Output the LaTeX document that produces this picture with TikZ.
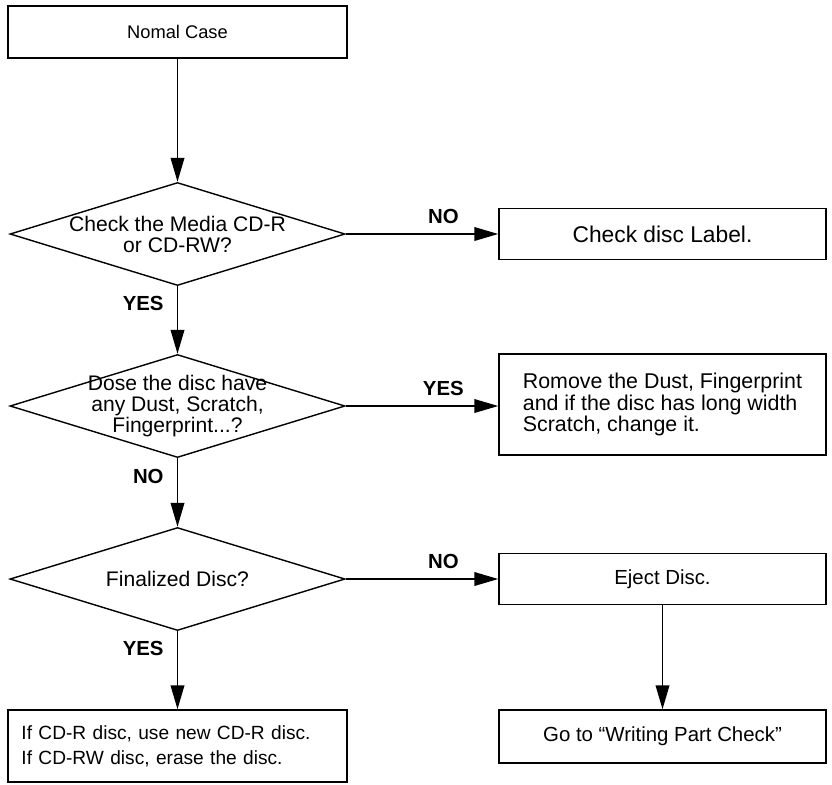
\documentclass[tikz,border=0pt]{standalone}
\usepackage{fontspec}
\setmainfont{Liberation Sans}
\usetikzlibrary{arrows.meta,positioning,shapes.geometric}
\tikzset{
  stepbox/.style={
    rectangle, draw, line width=1pt,
    minimum width=8.175cm, minimum height=#1,
    font=\fontsize{14.5}{13.5}\selectfont, align=center,
    inner sep=0pt
  },
  stepbox/.default=1.275cm,
  decision/.style={
    diamond, draw, line width=1pt,
    minimum width=8.375cm, minimum height=2.575cm,
    inner sep=0pt
  },
  qtext/.style={font=\fontsize{15}{15}\selectfont, align=center},
  flowarrow/.style={
    -{Triangle[length=0.6cm, width=0.34cm]}, line width=1.3pt
  },
  answer/.style={font=\fontsize{14.5}{15}\selectfont\bfseries, inner sep=0pt},
}

\begin{document}
\begin{tikzpicture}[x=0.025cm, y=-0.025cm]
  \useasboundingbox (0,0) rectangle (832,784);
  \node[stepbox=1.3cm, minimum width=8.475cm,
        font=\fontsize{13}{15}\selectfont] (start) at (177.5,32) {Nomal Case};
  \node[decision, label={[qtext]center:{Check the Media CD-R\\or CD-RW?}}]
    (media) at (177.5,234) {};
  \node[stepbox, font=\fontsize{16.2}{15}\selectfont] (disclabel) at (662.5,234)
    {Check disc Label.};
  \node[decision, label={[qtext]center:{Dose the disc have\\any Dust, Scratch,\\Fingerprint...?}}]
    (dust) at (177.5,406) {};
  \node[stepbox=2.525cm, align=left,
        font=\fontsize{15.2}{15}\selectfont] (clean) at (662.5,404.5)
    {Romove the Dust, Fingerprint\\and if the disc has long width\\Scratch, change it.};
  \node[decision, label={[qtext]center:Finalized Disc?}] (final) at (177.5,579) {};
  \node[stepbox] (eject) at (662.5,579) {Eject Disc.};
  \node[stepbox=1.325cm] (writing) at (662.5,736.5) {Go to “Writing Part Check”};
  \node[stepbox=1.8cm, minimum width=8.475cm, align=left, text width=7.8cm,
        font=\fontsize{13.6}{17.8}\selectfont] (renew) at (177.5,746)
    {If CD-R disc, use new CD-R disc.\\If CD-RW disc, erase the disc.};
  % down the left side
  \draw[flowarrow] (start) -- (media);
  \draw[flowarrow] (media) -- node[answer, pos=0.26, left=0.325cm] {YES} (dust);
  \draw[flowarrow] (dust) -- node[answer, pos=0.26, left=0.325cm] {NO} (final);
  \draw[flowarrow] (final) -- node[answer, pos=0.22, left=0.325cm] {YES} (renew);
  % branches to the right
  \draw[flowarrow] (media) -- node[answer, pos=0.64, above=0.225cm] {NO} (disclabel);
  \draw[flowarrow] (dust.east) -- node[answer, pos=0.64, above=0.225cm] {YES} (dust.east -| clean.west);
  \draw[flowarrow] (final) -- node[answer, pos=0.64, above=0.225cm] {NO} (eject);
  \draw[flowarrow] (eject) -- (writing);
\end{tikzpicture}
\end{document}
